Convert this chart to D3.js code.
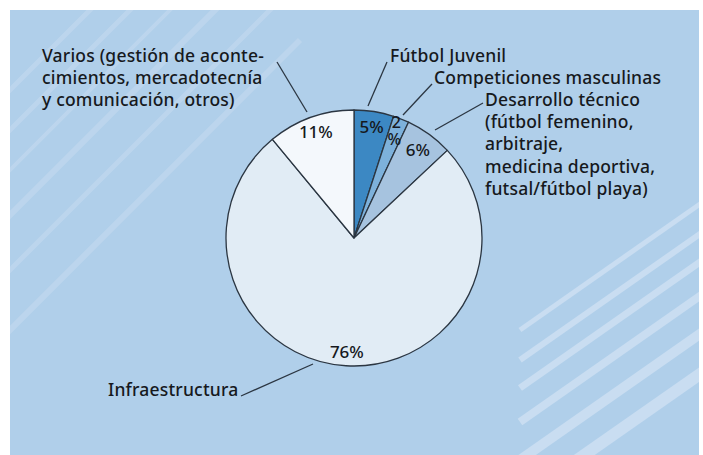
<!DOCTYPE html>
<html>
<head>
<meta charset="utf-8">
<script src="https://cdn.jsdelivr.net/npm/d3@7"></script>
<style>
  body { margin: 0; background: #fff; }
  text { font-family: "Noto Sans", "Open Sans", sans-serif; font-weight: 500; fill: #16191d; }
</style>
</head>
<body>
<div id="chart"></div>
<script>
// slices, clockwise from 12 o'clock
var categories = ["Fútbol Juvenil", "Competiciones masculinas", "Desarrollo técnico", "Infraestructura", "Varios"];
var shares = [5, 2, 6, 76, 11];
var pctLabels = ["5%", "2\n%", "6%", "76%", "11%"];
var sliceColors = ["#3c88c3", "#7db1db", "#a6c3df", "#e1ecf5", "#f4f8fc"];

var width = 703, height = 455;
var cx = 354, cy = 238, radius = 128;

var svg = d3.select("#chart").append("svg")
    .attr("width", width)
    .attr("height", height);

// panel
svg.append("defs").append("clipPath").attr("id", "panel")
  .append("rect").attr("x", 10).attr("y", 10).attr("width", 689).attr("height", 445);

svg.append("rect")
    .attr("x", 10).attr("y", 10)
    .attr("width", 689).attr("height", 445)
    .attr("fill", "#b0cfea");

// decorative stripes
var stripeG = svg.append("g").attr("clip-path", "url(#panel)");
var topStripes = [[-40, 5], [0, 5], [40, 4], [85, 6], [140, 5], [200, 6]];
topStripes.forEach(function(s) {
  stripeG.append("line")
    .attr("x1", 0).attr("y1", 140 + s[0])
    .attr("x2", 300).attr("y2", -160 + s[0])
    .attr("stroke", "#c0d8ee").attr("stroke-width", s[1]).attr("opacity", 0.75);
});
var bottomStripes = [[-70, 5], [-40, 6], [-12, 7], [22, 8], [60, 10], [100, 12]];
bottomStripes.forEach(function(s) {
  stripeG.append("line")
    .attr("x1", 520).attr("y1", 400 + s[0])
    .attr("x2", 760).attr("y2", 232 + s[0])
    .attr("stroke", "#c9ddf1").attr("stroke-width", s[1]);
});

var pie = d3.pie().sort(null).value(function(d) { return d; });
var arcs = pie(shares);
var arc = d3.arc().innerRadius(0).outerRadius(radius);

var pieG = svg.append("g").attr("transform", "translate(" + cx + "," + cy + ")");

pieG.selectAll("path").data(arcs).enter().append("path")
    .attr("d", arc)
    .attr("fill", function(d, i) { return sliceColors[i]; })
    .attr("stroke", "#2b3642")
    .attr("stroke-width", 1.3)
    .attr("stroke-linejoin", "round");

// percentage labels, radial factor of each slice's mid angle
var pctRadius = [0.88, 0.9, 0.85, 0.89, 0.88];
var pctSize = [17, 16, 17, 17, 17];
arcs.forEach(function(d, i) {
  var a = (d.startAngle + d.endAngle) / 2;
  var r = radius * pctRadius[i];
  var px = Math.sin(a) * r, py = -Math.cos(a) * r;
  var lines = pctLabels[i].split("\n");
  lines.forEach(function(l, j) {
    pieG.append("text")
      .attr("text-anchor", "middle")
      .attr("font-size", pctSize[i])
      .attr("fill", "#2e3338")
      .attr("x", px - j * 2)
      .attr("y", py + 6 + (j - (lines.length - 1) / 2) * 17)
      .text(l);
  });
});

// outside labels with leader lines
var outLabels = [
  { lines: ["Fútbol Juvenil"], x: 390, y: 62, from: [387, 62], to: [368, 106] },
  { lines: ["Competiciones masculinas"], x: 434, y: 84, from: [432, 84], to: [403, 115] },
  { lines: ["Desarrollo técnico", "(fútbol femenino,", "arbitraje,", "medicina deportiva,", "futsal/fútbol playa)"], x: 485, y: 106, from: [483, 103], to: [435, 130] },
  { lines: ["Infraestructura"], x: 108, y: 396, from: [241, 396], to: [313, 364] },
  { lines: ["Varios (gestión de aconte-", "cimientos, mercadotecnía", "y comunicación, otros)"], x: 42, y: 62, from: [277, 62], to: [307, 112] }
];

outLabels.forEach(function(o) {
  svg.append("line")
    .attr("x1", o.from[0]).attr("y1", o.from[1])
    .attr("x2", o.to[0]).attr("y2", o.to[1])
    .attr("stroke", "#2b3642").attr("stroke-width", 1.3);
  var t = svg.append("text")
    .attr("font-size", 17.5)
    .attr("letter-spacing", 0.2);
  o.lines.forEach(function(l, j) {
    t.append("tspan").attr("x", o.x).attr("y", o.y + j * 22.2).text(l);
  });
});
</script>
</body>
</html>
